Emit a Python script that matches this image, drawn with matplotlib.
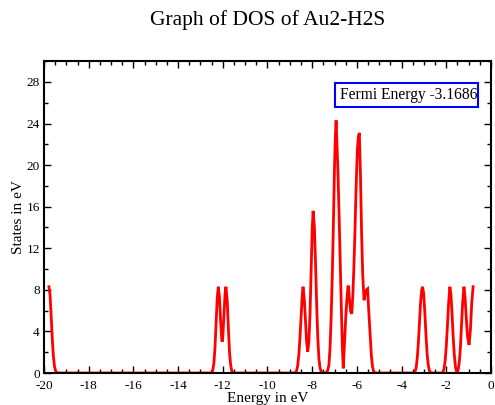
import matplotlib
matplotlib.use("Agg")
import matplotlib.pyplot as plt
from matplotlib.patches import Rectangle
from matplotlib.ticker import MultipleLocator

title = "Graph of DOS of Au2-H2S"
xlabel = "Energy in eV"
ylabel = "States in eV"
fermi_label = "Fermi Energy -3.1686"

energy = [
    -19.78, -19.73, -19.68, -19.63, -19.58, -19.53, -19.48, -19.43, -19.35,
    -12.55, -12.50, -12.45, -12.40, -12.35, -12.30, -12.25, -12.20, -12.15,
    -12.10, -12.05, -12.03, -12.00, -11.95, -11.90, -11.86, -11.80, -11.75,
    -11.70, -11.65, -11.60, -11.55, -11.50,
    -8.85, -8.75, -8.70, -8.65, -8.60, -8.55, -8.50, -8.45, -8.41, -8.35,
    -8.30, -8.25, -8.20, -8.15, -8.10, -8.05, -8.00, -7.96, -7.90, -7.85,
    -7.80, -7.75, -7.70, -7.65, -7.60, -7.55, -7.45, -7.35, -7.30,
    -7.25, -7.20, -7.15, -7.10, -7.05, -7.00, -6.96, -6.93, -6.90, -6.85,
    -6.80, -6.75, -6.70, -6.65, -6.61, -6.55, -6.50, -6.45, -6.40, -6.38,
    -6.33, -6.28, -6.23, -6.18, -6.13, -6.09, -6.04, -5.98, -5.93, -5.89,
    -5.84, -5.79, -5.74, -5.68, -5.63, -5.57, -5.52, -5.47, -5.41, -5.35,
    -5.30, -5.25, -5.18,
    -3.45, -3.40, -3.35, -3.30, -3.25, -3.20, -3.15, -3.10, -3.06, -3.01,
    -2.96, -2.91, -2.86, -2.81, -2.76, -2.70, -2.65,
    -2.20, -2.15, -2.10, -2.05, -2.00, -1.95, -1.90, -1.84, -1.79, -1.74,
    -1.69, -1.64, -1.59, -1.55, -1.51, -1.47, -1.42, -1.37, -1.32, -1.27,
    -1.21, -1.16, -1.11, -1.05, -0.98, -0.92, -0.86, -0.80,
]
states = [
    8.3, 7.5, 5.5, 3.3, 1.6, 0.63, 0.2, 0.05, 0.0,
    0.0, 0.06, 0.26, 0.9, 2.4, 4.8, 7.2, 8.3, 7.3,
    5.1, 3.3, 3.0, 3.4, 5.6, 7.6, 8.3, 6.9, 4.3,
    2.0, 0.8, 0.2, 0.05, 0.0,
    0.0, 0.05, 0.2, 0.7, 1.7, 3.3, 5.3, 7.3, 8.3, 7.0,
    5.0, 3.0, 2.05, 3.0, 5.5, 9.5, 13.8, 15.6, 14.0, 10.5,
    6.6, 3.4, 1.4, 0.5, 0.15, 0.02, 0.0, 0.05, 0.3,
    0.8, 2.5, 5.5, 9.5, 14.5, 20.0, 23.0, 24.3, 22.5, 19.5,
    15.5, 11.0, 6.5, 2.5, 0.45, 3.0, 5.3, 7.0, 8.3, 8.4,
    7.0, 5.9, 5.7, 7.5, 10.5, 13.4, 17.5, 21.5, 22.8, 23.1,
    19.0, 13.4, 9.5, 7.0, 7.6, 8.0, 8.1, 6.0, 3.8, 1.6,
    0.6, 0.15, 0.0,
    0.0, 0.1, 0.5, 1.4, 2.9, 4.9, 6.8, 8.0, 8.3, 7.6,
    5.8, 3.7, 1.9, 0.8, 0.25, 0.05, 0.0,
    0.0, 0.1, 0.4, 1.2, 2.6, 4.5, 6.6, 8.3, 7.5, 5.6,
    3.4, 1.7, 0.6, 0.2, 0.1, 0.3, 1.0, 2.4, 4.5, 6.7,
    8.3, 7.3, 5.4, 3.5, 2.7, 4.2, 6.8, 8.3,
]

xticks = list(range(-20, 1, 2))
yticks = list(range(0, 29, 4))

plt.rcParams['font.family'] = ['Liberation Serif', 'DejaVu Serif']

fig = plt.figure(figsize=(4.95, 4.05), dpi=100)
ax = fig.add_axes([0.0889, 0.079, 0.903, 0.770])
ax.plot(energy, states, color='#ff0000', lw=2.0, solid_joinstyle='miter')
ax.set_xlim(-20, 0)
ax.set_ylim(0, 30)
ax.set_xticks(xticks)
ax.set_xticklabels([str(t) for t in xticks])
ax.set_yticks(yticks)
ax.set_yticklabels([str(t) for t in yticks])
ax.xaxis.set_minor_locator(MultipleLocator(0.5))
ax.yaxis.set_minor_locator(MultipleLocator(2))
ax.tick_params(which='both', direction='in', top=True, right=True, labelsize=9.5, width=1)
ax.tick_params(axis='x', which='both', pad=5)
ax.tick_params(axis='y', which='both', pad=3)
ax.tick_params(which='major', length=5)
ax.tick_params(which='minor', length=3)
for s in ax.spines.values():
    s.set_linewidth(1.5)
ax.set_xlabel(xlabel, fontsize=11, labelpad=0)
ax.set_ylabel(ylabel, fontsize=11, labelpad=1)
fig.text(0.541, 0.95, title, ha='center', va='center', fontsize=15.5)

ax.add_patch(Rectangle((0.651, 0.852), 0.319, 0.078, transform=ax.transAxes,
                       fill=False, edgecolor='#0000ff', lw=1.5, zorder=4))
ax.text(0.662, 0.891, fermi_label, transform=ax.transAxes, ha='left', va='center',
        fontsize=11.2, zorder=5)

fig.savefig('out.png', dpi=100)
